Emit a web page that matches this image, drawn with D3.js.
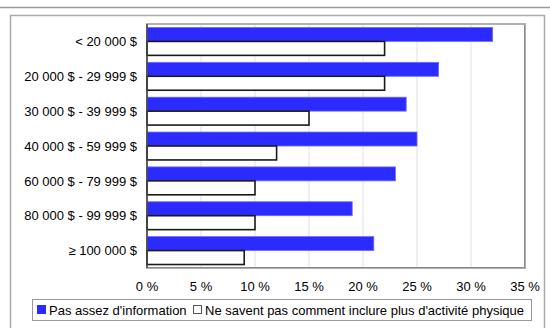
<!DOCTYPE html>
<html>
<head>
<meta charset="utf-8">
<script src="https://cdn.jsdelivr.net/npm/d3@7"></script>
<style>
  body { margin: 0; background: #fff; }
  svg { display: block; font-family: "Liberation Sans", Arial, sans-serif; }
</style>
</head>
<body>
<svg id="chart" width="550" height="328"></svg>
<script>
const categories = [
  "< 20 000 $",
  "20 000 $ - 29 999 $",
  "30 000 $ - 39 999 $",
  "40 000 $ - 59 999 $",
  "60 000 $ - 79 999 $",
  "80 000 $ - 99 999 $",
  "≥ 100 000 $"
];
const pasAssez = [32, 27, 24, 25, 23, 19, 21];
const neSaventPas = [22, 22, 15, 12, 10, 10, 9];
const xTicks = [0, 5, 10, 15, 20, 25, 30, 35];
const seriesNames = ["Pas assez d'information", "Ne savent pas comment inclure plus d'activité physique"];

const width = 550, height = 328;
const plot = { left: 147, top: 24, right: 525, bottom: 268 };

const svg = d3.select("#chart");

// top rule and outer frame
svg.append("line")
  .attr("x1", 0).attr("x2", width)
  .attr("y1", 7.5).attr("y2", 7.5)
  .attr("stroke", "#999").attr("stroke-width", 1.5);

svg.append("rect")
  .attr("x", 10.5).attr("y", 15.5)
  .attr("width", 534).attr("height", 330)
  .attr("fill", "none")
  .attr("stroke", "#aaa").attr("stroke-width", 1.5);

const x = d3.scaleLinear().domain([0, 35]).range([plot.left, plot.right]);
const y = d3.scaleBand().domain(categories).range([plot.top, plot.bottom]).paddingInner(0.2).paddingOuter(0.1);
const sub = d3.scaleBand().domain([0, 1]).range([0, y.bandwidth()]);

const chart = svg.append("g");

// gridlines
chart.append("g")
  .selectAll("line")
  .data(xTicks.slice(1, -1))
  .join("line")
  .attr("x1", (d) => x(d)).attr("x2", (d) => x(d))
  .attr("y1", plot.top).attr("y2", plot.bottom)
  .attr("stroke", "#e0e0e0")
  .attr("stroke-width", 1);

// plot frame with shadow
chart.append("rect")
  .attr("x", plot.left).attr("y", plot.top)
  .attr("width", plot.right - plot.left).attr("height", plot.bottom - plot.top)
  .attr("fill", "none")
  .attr("stroke", "#b0b0b0").attr("stroke-width", 2);
chart.append("path")
  .attr("d", `M${plot.left + 1},${plot.bottom - 0.5}H${plot.right - 0.5}V${plot.top + 1}`)
  .attr("fill", "none")
  .attr("stroke", "#888").attr("stroke-width", 1);

const groups = chart.append("g")
  .selectAll("g")
  .data(categories)
  .join("g")
  .attr("transform", (d) => `translate(0,${y(d)})`);

groups.append("rect")
  .attr("x", x(0))
  .attr("y", sub(0))
  .attr("width", (d, i) => x(pasAssez[i]) - x(0))
  .attr("height", sub.bandwidth())
  .attr("fill", "#2b2bff")
  .attr("stroke", "#6a6aff")
  .attr("stroke-width", 0.8);

groups.append("rect")
  .attr("x", x(0))
  .attr("y", sub(1))
  .attr("width", (d, i) => x(neSaventPas[i]) - x(0))
  .attr("height", sub.bandwidth())
  .attr("fill", "#fff")
  .attr("stroke", "#1a1a1a")
  .attr("stroke-width", 1.6);

// left axis line
chart.append("line")
  .attr("x1", plot.left).attr("x2", plot.left)
  .attr("y1", plot.top).attr("y2", plot.bottom)
  .attr("stroke", "#444").attr("stroke-width", 1.5);

// category labels
chart.append("g")
  .selectAll("text")
  .data(categories)
  .join("text")
  .attr("x", 137)
  .attr("y", (d) => y(d) + y.bandwidth() / 2)
  .attr("dy", "0.36em")
  .attr("text-anchor", "end")
  .attr("font-size", 13)
  .attr("fill", "#000")
  .text((d) => d);

// x tick labels
chart.append("g")
  .selectAll("text")
  .data(xTicks)
  .join("text")
  .attr("x", (d) => x(d))
  .attr("y", 291)
  .attr("text-anchor", "middle")
  .attr("font-size", 13)
  .attr("fill", "#000")
  .text((d) => `${d} %`);

// legend
const legend = svg.append("g");
legend.append("rect")
  .attr("x", 32.5).attr("y", 299.5)
  .attr("width", 499).attr("height", 21)
  .attr("fill", "#fff")
  .attr("stroke", "#999").attr("stroke-width", 1);

const legendX = [37, 193];
const legendItems = legend.selectAll("g")
  .data(seriesNames)
  .join("g")
  .attr("transform", (d, i) => `translate(${legendX[i]},305)`);

legendItems.append("rect")
  .attr("x", 0.5).attr("y", 0.5)
  .attr("width", 8).attr("height", 8)
  .attr("fill", (d, i) => (i === 0 ? "#2b2bff" : "#fff"))
  .attr("stroke", (d, i) => (i === 0 ? "#2b2bff" : "#555"))
  .attr("stroke-width", 1);

legendItems.append("text")
  .attr("x", 12)
  .attr("y", 9.5)
  .attr("font-size", 13)
  .attr("fill", "#000")
  .text((d) => d);
</script>
</body>
</html>
